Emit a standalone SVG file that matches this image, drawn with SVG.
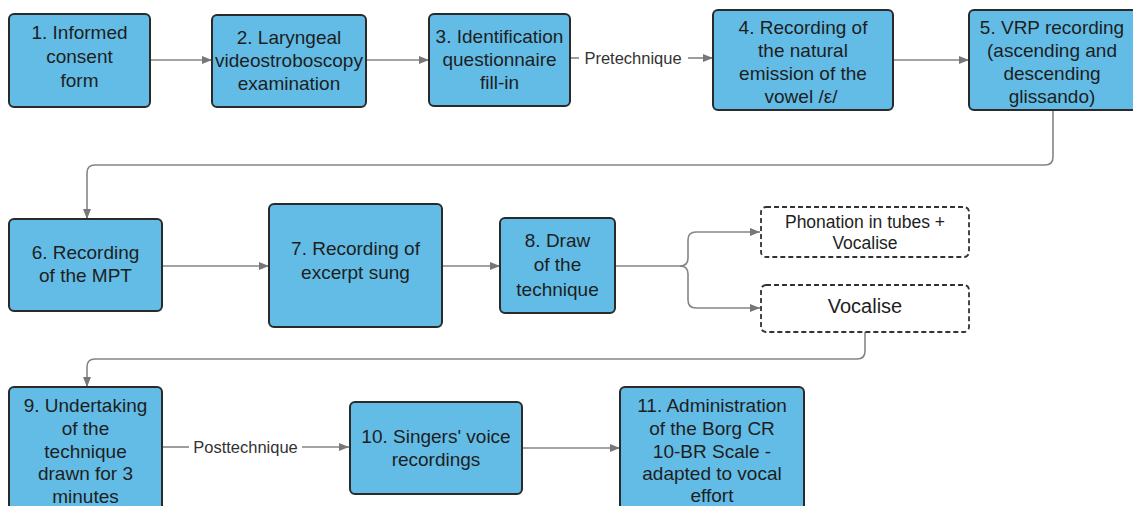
<svg xmlns="http://www.w3.org/2000/svg" width="1133" height="506" viewBox="0 0 1133 506">
<style>
.node rect{fill:#62bce6;stroke:#2a2a2a;stroke-width:2}
.dash rect{fill:#fff;stroke:#333;stroke-width:1.8;stroke-dasharray:5 3}
text{font-family:"Liberation Sans",Arial,sans-serif;fill:#1e1e1e;text-anchor:middle}
.t{font-size:19px}
.s{font-size:17.5px}
.l{font-size:16.5px;fill:#333}
.c path,.c line{fill:none;stroke:#858585;stroke-width:1.6}
</style>
<defs>
<marker id="ah" markerWidth="10" markerHeight="8" refX="10" refY="4" orient="auto" markerUnits="userSpaceOnUse">
<path d="M0,0 L10,4 L0,8 Z" fill="#777"/>
</marker>
</defs>
<rect width="1133" height="506" fill="#fff"/>
<g class="c" id="connectors">
<line x1="150" y1="60" x2="212" y2="60" marker-end="url(#ah)"/>
<line x1="366" y1="60" x2="429" y2="60" marker-end="url(#ah)"/>
<line x1="570" y1="58" x2="579" y2="58"/>
<line x1="688" y1="58" x2="713" y2="58" marker-end="url(#ah)"/>
<line x1="893" y1="60" x2="969" y2="60" marker-end="url(#ah)"/>
<path d="M1053,110 V157 Q1053,165 1045,165 H95 Q87,165 87,173 V219" marker-end="url(#ah)"/>
<line x1="162" y1="266" x2="269" y2="266" marker-end="url(#ah)"/>
<line x1="442" y1="266" x2="500" y2="266" marker-end="url(#ah)"/>
<path d="M615,266 H680 Q688,266 688,258 V240 Q688,232 696,232 H760" marker-end="url(#ah)"/>
<path d="M680,266 Q688,266 688,274 V300 Q688,308 696,308 H760" marker-end="url(#ah)"/>
<path d="M865,332 V351 Q865,359 857,359 H95 Q87,359 87,367 V387" marker-end="url(#ah)"/>
<line x1="162" y1="447" x2="189" y2="447"/>
<line x1="302" y1="447" x2="349" y2="447" marker-end="url(#ah)"/>
<line x1="522" y1="448" x2="620" y2="448" marker-end="url(#ah)"/>
<text class="l" x="633" y="64">Pretechnique</text>
<text class="l" x="245.5" y="453">Posttechnique</text>
</g>
<g id="n1" class="node"><rect x="9" y="14" width="141" height="93" rx="5"/>
<text class="t" x="79.5" y="39">1. Informed</text><text class="t" x="79.5" y="63">consent</text><text class="t" x="79.5" y="87">form</text></g>
<g id="n2" class="node"><rect x="212" y="15" width="154" height="92" rx="5"/>
<text class="t" x="289" y="44">2. Laryngeal</text><text class="t" x="289" y="67">videostroboscopy</text><text class="t" x="289" y="90">examination</text></g>
<g id="n3" class="node"><rect x="429" y="14" width="141" height="92" rx="5"/>
<text class="t" x="499.5" y="43">3. Identification</text><text class="t" x="499.5" y="66">questionnaire</text><text class="t" x="499.5" y="89">fill-in</text></g>
<g id="n4" class="node"><rect x="713" y="10" width="180" height="100" rx="5"/>
<text class="t" x="803" y="34">4. Recording of</text><text class="t" x="803" y="57">the natural</text><text class="t" x="803" y="80">emission of the</text><text class="t" x="801" y="103">vowel /ε/</text></g>
<g id="n5" class="node"><rect x="969" y="10" width="170" height="100" rx="5"/>
<text class="t" x="1052" y="34">5. VRP recording</text><text class="t" x="1052" y="57">(ascending and</text><text class="t" x="1052" y="80">descending</text><text class="t" x="1052" y="103">glissando)</text></g>
<g id="n6" class="node"><rect x="9" y="219" width="153" height="92" rx="5"/>
<text class="t" x="85.5" y="259">6. Recording</text><text class="t" x="85.5" y="282">of the MPT</text></g>
<g id="n7" class="node"><rect x="269" y="204" width="173" height="123" rx="5"/>
<text class="t" x="355.5" y="255">7. Recording of</text><text class="t" x="355.5" y="279">excerpt sung</text></g>
<g id="n8" class="node"><rect x="500" y="218" width="115" height="95" rx="5"/>
<text class="t" x="557.5" y="247">8. Draw</text><text class="t" x="557.5" y="271">of the</text><text class="t" x="557.5" y="296">technique</text></g>
<g id="d1" class="dash"><rect x="761" y="207" width="208" height="50" rx="5"/>
<text class="s" x="865" y="228">Phonation in tubes +</text><text class="s" x="865" y="249">Vocalise</text></g>
<g id="d2" class="dash"><rect x="761" y="285" width="208" height="47" rx="5"/>
<text x="865" y="313" style="font-size:20px">Vocalise</text></g>
<g id="n9" class="node"><rect x="9" y="387" width="153" height="125" rx="5"/>
<text class="t" x="85.5" y="412">9. Undertaking</text><text class="t" x="85.5" y="435">of the</text><text class="t" x="85.5" y="458">technique</text><text class="t" x="85.5" y="480">drawn for 3</text><text class="t" x="85.5" y="503">minutes</text></g>
<g id="n10" class="node"><rect x="350" y="402" width="172" height="92" rx="5"/>
<text class="t" x="436" y="443">10. Singers' voice</text><text class="t" x="436" y="466">recordings</text></g>
<g id="n11" class="node"><rect x="620" y="387" width="184" height="125" rx="5"/>
<text class="t" x="712" y="412">11. Administration</text><text class="t" x="712" y="435">of the Borg CR</text><text class="t" x="712" y="458">10-BR Scale -</text><text class="t" x="712" y="480">adapted to vocal</text><text class="t" x="712" y="502">effort</text></g>
</svg>
